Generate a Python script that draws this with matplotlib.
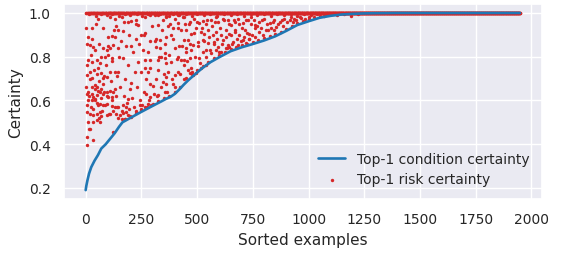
import numpy as np
import matplotlib
matplotlib.use("Agg")
import matplotlib.pyplot as plt
import seaborn as sns

sns.set_theme(style="darkgrid")
plt.rcParams['font.family'] = ['DejaVu Sans']

n_examples = 1950

# Top-1 condition certainty (sorted), read at knots along the curve
cond_idx = [0, 3, 8, 15, 25, 40, 55, 70, 90, 110, 130, 150, 165, 200, 250, 300,
            340, 360, 380, 400, 420, 440, 460, 480, 520, 560, 600, 650, 700, 750,
            800, 850, 900, 950, 1000, 1050, 1100, 1150, 1200, 1250, 1300, 1400, 1949]
cond_val = [0.19, 0.21, 0.235, 0.265, 0.295, 0.325, 0.35, 0.38, 0.40, 0.425, 0.45,
            0.48, 0.50, 0.52, 0.548, 0.575, 0.596, 0.607, 0.616, 0.63, 0.65, 0.672,
            0.692, 0.71, 0.745, 0.775, 0.798, 0.825, 0.843, 0.858, 0.874, 0.893,
            0.918, 0.945, 0.962, 0.978, 0.987, 0.993, 0.996, 0.998, 0.999, 1.0, 1.0]

# Top-1 risk certainty: points that fall below 1.0 (index, value)
risk_idx = [
    56, 109, 131, 161, 190, 205, 228, 265, 287, 324, 347, 362, 376, 399, 414, 436,
    27, 138, 146, 168, 235, 324, 369, 391, 414, 428,
    12, 101, 116, 131, 228, 250, 262, 287, 317, 332, 362, 384, 443,
    19, 34, 42, 79, 94, 109, 123, 146, 183, 205, 257, 317, 332, 354, 399, 421, 451,
    12, 27, 49, 71, 86, 101, 116, 168, 235, 265, 287, 324, 339, 354, 362, 384, 414, 428, 443,
    4, 19, 27, 56, 71, 79, 94, 109, 131, 146, 220, 265, 280, 324, 369, 362, 399, 414,
    79, 27, 42, 49, 56, 64, 71, 4, 12, 27, 34, 49, 79, 94, 109, 123, 131, 101, 116,
    198, 190, 287, 302, 347, 362, 391, 272, 287, 324, 354,
    12, 27, 42, 49, 64, 79, 94, 116, 131, 146, 168, 183, 4, 19, 34, 49, 64, 71, 94,
    109, 123, 138, 153, 168, 183, 190, 146, 161, 176, 34, 49, 64, 242, 250, 265, 280,
    295, 228, 205, 19, 4, 34, 123, 4,
    443, 466, 488, 510, 525, 540, 563, 585, 593, 615, 638, 653, 668, 683, 705, 728,
    743, 758, 780, 802, 825, 847, 870, 892, 915, 937, 960,
    451, 473, 496, 518, 533, 548, 570, 585, 608, 630, 645, 668, 690, 713, 735, 758,
    780, 810, 832, 855,
    458, 481, 503, 525, 548, 578, 593, 615, 638, 660, 683, 705, 720, 735,
    451, 473, 466, 510, 525, 540, 563, 585, 608, 630, 645,
    443, 458, 473, 481, 496, 466, 518, 540,
    967, 985, 1003,
    # just above the condition curve
    175, 200, 225, 250, 275, 300, 325, 350, 375, 400, 425, 450, 475, 500, 525, 550,
    575, 600, 625, 650, 675, 700, 725, 750, 775, 800, 825, 850, 875, 900, 925, 950,
    975, 1000, 1025, 1050, 1075, 1100, 1150,
    # more scattered points, left part
    2, 5, 8, 3, 6, 10, 14, 16, 18, 22, 24, 30, 32, 38, 40, 44, 46, 52, 54, 58, 60,
    62, 66, 68, 74, 76, 82, 84, 88, 92, 96, 98,
    104, 112, 118, 120, 126, 134, 140, 142, 150, 155, 158, 163, 170, 172, 178, 186,
    188, 194, 196, 202, 210, 214, 218, 224, 230, 238, 244, 248,
    255, 260, 268, 272, 278, 284, 290, 296, 305, 310, 315, 320, 328, 336, 342, 350,
    358, 366, 372, 380, 386, 394, 402, 408, 416, 424, 432, 440, 446,
    # more scattered points, middle part
    455, 462, 470, 478, 486, 492, 500, 506, 514, 520, 530, 538, 545, 552, 560, 568,
    575, 582, 590, 598, 605, 612, 620, 628, 635, 642, 650, 658, 665, 672, 680, 688,
    696, 702, 710, 718, 725, 733, 740, 748, 755, 762, 770, 785, 792, 798, 815, 820,
    840, 845, 862, 880, 885, 905, 920, 930, 945,
    # just under the top band
    15, 45, 70, 95, 120, 150, 175, 200, 230, 255, 280, 310, 335, 360, 390, 420, 450,
    475, 500, 530, 560, 590, 620, 650, 680, 710, 740, 770, 800, 830, 860, 890, 920,
    950, 980, 1010, 1040, 1070, 1100, 1130, 1160, 1190, 1220,
]
risk_val = [
    0.974, 0.982, 0.974, 0.982, 0.959, 0.964, 0.970, 0.982, 0.989, 0.989, 0.967, 0.982, 0.985, 0.974, 0.989, 0.982,
    0.933, 0.939, 0.924, 0.918, 0.944, 0.944, 0.939, 0.929, 0.952, 0.921,
    0.891, 0.891, 0.894, 0.891, 0.880, 0.898, 0.898, 0.873, 0.883, 0.876, 0.891, 0.898, 0.876,
    0.853, 0.845, 0.830, 0.838, 0.830, 0.838, 0.853, 0.838, 0.848, 0.848, 0.830, 0.845, 0.838, 0.815, 0.838, 0.848, 0.823,
    0.785, 0.777, 0.785, 0.800, 0.800, 0.808, 0.792, 0.792, 0.777, 0.785, 0.785, 0.785, 0.800, 0.792, 0.770, 0.777, 0.800, 0.785, 0.785,
    0.717, 0.732, 0.702, 0.747, 0.724, 0.702, 0.709, 0.732, 0.732, 0.732, 0.732, 0.747, 0.732, 0.739, 0.732, 0.709, 0.717, 0.732,
    0.676, 0.661, 0.653, 0.661, 0.645, 0.638, 0.653, 0.630, 0.638, 0.630, 0.615, 0.623, 0.630, 0.638, 0.645, 0.638, 0.653, 0.615, 0.615,
    0.653, 0.608, 0.676, 0.668, 0.683, 0.676, 0.676, 0.630, 0.615, 0.623, 0.638,
    0.600, 0.600, 0.608, 0.589, 0.585, 0.580, 0.585, 0.574, 0.570, 0.570, 0.577, 0.570, 0.547, 0.539, 0.532, 0.539, 0.547, 0.529, 0.532,
    0.539, 0.550, 0.539, 0.532, 0.544, 0.547, 0.532, 0.520, 0.514, 0.517, 0.502, 0.509, 0.502, 0.577, 0.559, 0.570, 0.585,
    0.577, 0.550, 0.524, 0.471, 0.433, 0.418, 0.456, 0.395,
    0.982, 0.959, 0.974, 0.955, 0.964, 0.948, 0.967, 0.982, 0.959, 0.974, 0.967, 0.944, 0.959, 0.974, 0.952, 0.967,
    0.982, 0.944, 0.959, 0.974, 0.952, 0.967, 0.959, 0.974, 0.967, 0.974, 0.982,
    0.921, 0.906, 0.929, 0.914, 0.906, 0.924, 0.898, 0.914, 0.898, 0.921, 0.906, 0.914, 0.898, 0.921, 0.906, 0.929,
    0.914, 0.921, 0.929, 0.936,
    0.876, 0.853, 0.868, 0.876, 0.861, 0.868, 0.845, 0.876, 0.853, 0.868, 0.853, 0.876, 0.861, 0.883,
    0.838, 0.830, 0.792, 0.792, 0.823, 0.830, 0.815, 0.830, 0.823, 0.838, 0.845,
    0.762, 0.739, 0.747, 0.717, 0.724, 0.724, 0.747, 0.762,
    0.978, 0.972, 0.980,
    0.517, 0.530, 0.544, 0.558, 0.571, 0.585, 0.597, 0.610, 0.622, 0.640, 0.662, 0.702, 0.719, 0.738, 0.759, 0.778,
    0.794, 0.808, 0.821, 0.835, 0.844, 0.853, 0.860, 0.868, 0.876, 0.884, 0.893, 0.903, 0.915, 0.928, 0.941, 0.955,
    0.963, 0.972, 0.980, 0.988, 0.992, 0.995, 0.998,
    0.93, 0.86, 0.76, 0.66, 0.58, 0.50, 0.47, 0.62, 0.70, 0.57, 0.81, 0.88, 0.56, 0.74, 0.60, 0.67, 0.95, 0.72, 0.58, 0.86, 0.52,
    0.69, 0.77, 0.61, 0.55, 0.93, 0.64, 0.71, 0.58, 0.76, 0.62, 0.85,
    0.54, 0.69, 0.60, 0.78, 0.92, 0.62, 0.57, 0.71, 0.80, 0.66, 0.87, 0.55, 0.62, 0.96, 0.70, 0.59,
    0.76, 0.90, 0.56, 0.68, 0.61, 0.82, 0.57, 0.95, 0.66, 0.86, 0.60, 0.73,
    0.58, 0.64, 0.91, 0.70, 0.82, 0.60, 0.75, 0.94, 0.63, 0.87, 0.70, 0.62, 0.80, 0.66, 0.92, 0.72,
    0.86, 0.64, 0.81, 0.95, 0.70, 0.88, 0.66, 0.79, 0.93, 0.72, 0.85, 0.70, 0.95,
    0.78, 0.95, 0.86, 0.73, 0.91, 0.80, 0.96, 0.85, 0.77, 0.93, 0.87, 0.80, 0.97, 0.89, 0.83, 0.94,
    0.86, 0.96, 0.88, 0.82, 0.93, 0.86, 0.97, 0.89, 0.84, 0.95, 0.90, 0.86, 0.97, 0.92, 0.88, 0.95,
    0.87, 0.93, 0.89, 0.97, 0.91, 0.88, 0.95, 0.90, 0.97, 0.89, 0.94, 0.93, 0.97, 0.90, 0.95, 0.92,
    0.96, 0.92, 0.95, 0.97, 0.94, 0.96, 0.98, 0.96, 0.97,
    0.993, 0.988, 0.995, 0.990, 0.993, 0.987, 0.995, 0.990, 0.993, 0.988, 0.995, 0.990, 0.993, 0.987, 0.995, 0.990, 0.993,
    0.988, 0.995, 0.990, 0.993, 0.987, 0.995, 0.990, 0.993, 0.988, 0.995, 0.990, 0.993, 0.987, 0.995, 0.990, 0.993,
    0.988, 0.995, 0.990, 0.993, 0.987, 0.995, 0.990, 0.993, 0.988, 0.995,
]

# examples whose risk certainty is exactly 1.0
band_idx = np.setdiff1d(np.arange(n_examples), np.array(risk_idx))
risk_x = np.concatenate([band_idx, np.array(risk_idx)])
risk_y = np.concatenate([np.ones(len(band_idx)), np.array(risk_val)])

fig = plt.figure(figsize=(5.61, 2.55), dpi=100)
ax = fig.add_axes([0.114, 0.2157, 0.8516, 0.7643])

ax.plot(cond_idx, cond_val, color="#1f77b4", lw=1.9, label="Top-1 condition certainty", zorder=2)
ax.scatter(risk_x, risk_y, s=6, color="#d62728", linewidths=0,
           label="Top-1 risk certainty", zorder=1)

ax.set_xlabel("Sorted examples", fontsize=11)
ax.set_ylabel("Certainty", fontsize=11)
ax.tick_params(labelsize=10)
ax.set_xticks([0, 250, 500, 750, 1000, 1250, 1500, 1750, 2000])
ax.set_yticks([0.2, 0.4, 0.6, 0.8, 1.0])
ax.legend(loc="lower right", frameon=False, fontsize=10)

fig.savefig("out.png", dpi=100)
